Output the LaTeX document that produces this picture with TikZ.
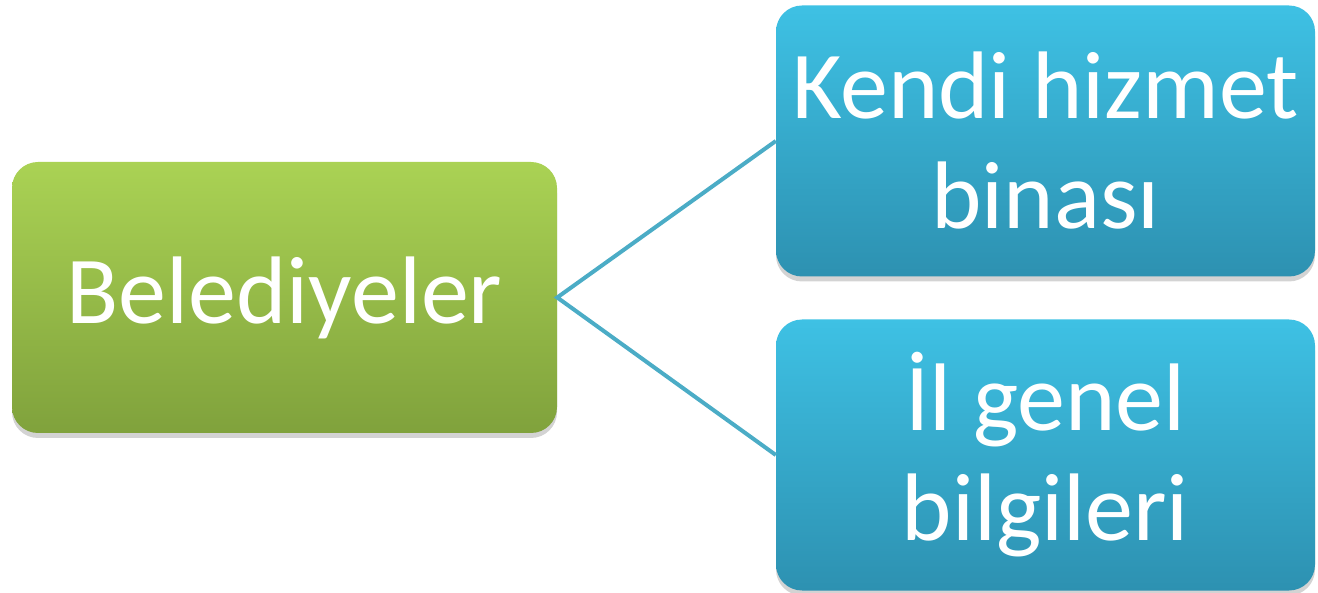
\documentclass[tikz,border=0pt]{standalone}
\usepackage{fontspec}
\setmainfont{Carlito}
\usetikzlibrary{shadows}
\definecolor{gtop}{RGB}{170,210,84}
\definecolor{gbot}{RGB}{128,162,60}
\definecolor{btop}{RGB}{62,193,228}
\definecolor{bbot}{RGB}{45,145,177}
\definecolor{linec}{RGB}{75,172,198}
\begin{document}
\begin{tikzpicture}[x=1pt,y=-1pt,
  box/.style={rounded corners=26pt, inner sep=0pt, text=white, align=center,
    font=\fontsize{96}{110}\selectfont,
    drop shadow={opacity=0.35, shadow xshift=0pt, shadow yshift=-5pt}},
  greenbox/.style={box, top color=gtop, bottom color=gbot, minimum width=545pt, minimum height=271pt},
  bluebox/.style={box, top color=btop, bottom color=bbot, minimum width=539pt, minimum height=271pt},
  conn/.style={draw=linec, line width=4pt}]
\useasboundingbox (0,0) rectangle (1318,593);
\node[greenbox] (g) at (284.5,297.5) {Belediyeler};
\node[bluebox] (k) at (1045.5,141) {\raisebox{4pt}{\parbox{536pt}{\centering Kendi hizmet\\binası}}};
\node[bluebox] (i) at (1045.5,455) {\raisebox{4pt}{\parbox{536pt}{\centering İl genel\\bilgileri}}};
\draw[conn] (k.west) -- (g.east) -- (i.west);
\end{tikzpicture}
\end{document}
